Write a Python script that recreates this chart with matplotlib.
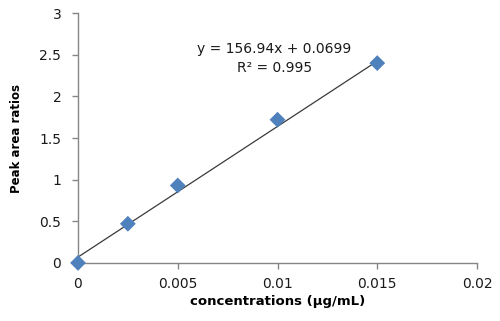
import numpy as np
import matplotlib.pyplot as plt

# calibration points
concentrations = [0.0, 0.0025, 0.005, 0.010, 0.015]
peak_area_ratios = [0.0, 0.47, 0.93, 1.72, 2.40]

# trendline as printed on the chart
slope = 156.94
intercept = 0.0699
r_squared = 0.995

x_ticks = [0, 0.005, 0.01, 0.015, 0.02]
x_tick_labels = ['0', '0.005', '0.01', '0.015', '0.02']
y_ticks = [0, 0.5, 1, 1.5, 2, 2.5, 3]
y_tick_labels = ['0', '0.5', '1', '1.5', '2', '2.5', '3']

axis_gray = '#868686'
marker_blue = '#4F81BD'

fig = plt.figure(figsize=(5.0, 3.21), dpi=100)
ax = fig.add_axes([0.156, 0.181, 0.798, 0.778])

# trendline spans the data range
line_x = np.array([min(concentrations), max(concentrations)])
ax.plot(line_x, slope * line_x + intercept, color='#3a3a3a', linewidth=0.9, zorder=2)

ax.scatter(concentrations, peak_area_ratios, marker='D', s=65, color=marker_blue,
           edgecolors='none', zorder=3, clip_on=False)

ax.set_xlim(0, 0.02)
ax.set_ylim(0, 3)
ax.set_xticks(x_ticks)
ax.set_xticklabels(x_tick_labels)
ax.set_yticks(y_ticks)
ax.set_yticklabels(y_tick_labels)

for side in ['top', 'right']:
    ax.spines[side].set_visible(False)
for side in ['left', 'bottom']:
    ax.spines[side].set_color(axis_gray)
    ax.spines[side].set_linewidth(1.0)

ax.tick_params(axis='both', direction='out', length=4, width=1.0, color=axis_gray,
               labelsize=10, labelcolor='#1a1a1a')
ax.tick_params(axis='x', pad=6)
ax.tick_params(axis='y', pad=8)

ax.set_xlabel('concentrations (µg/mL)', fontsize=9.5, fontweight='bold', labelpad=3)
ax.set_ylabel('Peak area ratios', fontsize=8.5, fontweight='bold', labelpad=12)

ax.text(0.00985, 2.46, 'y = %.2fx + %.4f\nR² = %.3f' % (slope, intercept, r_squared),
        ha='center', va='center', fontsize=10, color='#1a1a1a', linespacing=1.45,
        multialignment='center')

fig.savefig('out.png', dpi=100)
